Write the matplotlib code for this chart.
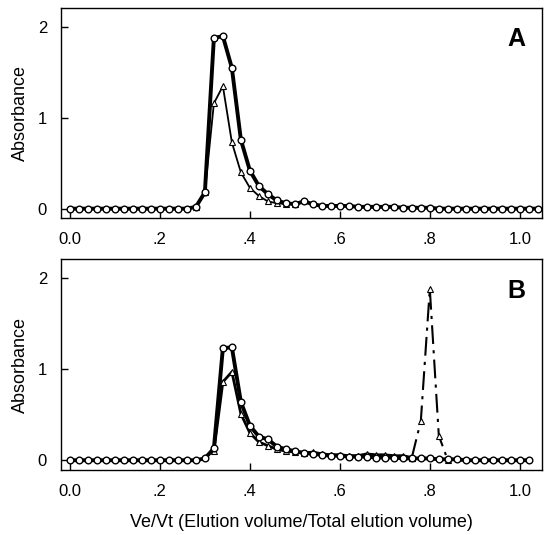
import numpy as np
import matplotlib
matplotlib.use("Agg")
import matplotlib.pyplot as plt

plt.rcParams["font.family"] = ["Liberation Sans", "DejaVu Sans"]

# panel A: fractions 0.00 .. 1.04, step 0.02
xa = np.round(np.arange(0, 1.041, 0.02), 2)
a_circ = [0.0] * 14 + [0.02, 0.18, 1.88, 1.90, 1.55, 0.76, 0.42, 0.25, 0.16, 0.09,
                      0.06, 0.05, 0.08, 0.05, 0.03, 0.03, 0.03, 0.03, 0.02, 0.02,
                      0.02, 0.02, 0.02, 0.01, 0.01, 0.01, 0.01, 0.0, 0.0, 0.0,
                      0.0, 0.0, 0.0, 0.0, 0.0, 0.0, 0.0, 0.0, 0.0]
xa_tri = [0.28, 0.30, 0.32, 0.34, 0.36, 0.38, 0.40, 0.42, 0.44, 0.46, 0.48, 0.50]
a_tri = [0.02, 0.18, 1.16, 1.35, 0.73, 0.40, 0.23, 0.14, 0.08, 0.06, 0.05, 0.05]

# panel B: fractions 0.00 .. 1.02
xb = np.round(np.arange(0, 1.021, 0.02), 2)
b_circ = [0.0] * 15 + [0.02, 0.13, 1.23, 1.24, 0.64, 0.38, 0.26, 0.23, 0.15, 0.12,
                      0.10, 0.08, 0.07, 0.06, 0.05, 0.05, 0.04, 0.04, 0.04, 0.03,
                      0.03, 0.03, 0.02, 0.02, 0.02, 0.02, 0.01, 0.01, 0.01, 0.0,
                      0.0, 0.0, 0.0, 0.0, 0.0, 0.0, 0.0]
xb_tri = [0.32, 0.34, 0.36, 0.38, 0.40, 0.42, 0.44, 0.46, 0.48, 0.50, 0.52, 0.54,
          0.56, 0.58, 0.60, 0.62, 0.64, 0.66, 0.68, 0.70, 0.72, 0.74, 0.76]
b_tri = [0.10, 0.86, 0.97, 0.51, 0.30, 0.20, 0.16, 0.12, 0.10, 0.09, 0.08, 0.09,
         0.07, 0.06, 0.06, 0.05, 0.05, 0.07, 0.06, 0.06, 0.05, 0.05, 0.03]
xb_peak = [0.76, 0.78, 0.80, 0.82, 0.84]
b_peak = [0.03, 0.43, 1.88, 0.27, 0.0]

xticks = [0.0, 0.2, 0.4, 0.6, 0.8, 1.0]
xticklabels = ["0.0", ".2", ".4", ".6", ".8", "1.0"]
yticks = [0, 1, 2]

fig = plt.figure(figsize=(5.44, 5.35), dpi=100)
axA = fig.add_axes([0.112, 0.593, 0.884, 0.392])
axB = fig.add_axes([0.112, 0.121, 0.884, 0.395])

circ = dict(marker="o", ms=4.8, mfc="white", mec="black", mew=1.0, color="black")
tri = dict(marker="^", ms=3.8, mfc="white", mec="black", mew=0.8, color="black")

axA.plot(xa_tri, a_tri, lw=1.3, zorder=2, **tri)
axA.plot(xa, a_circ, lw=2.8, zorder=3, **circ)

axB.plot(xb_tri, b_tri, lw=2.0, zorder=2, **tri)
axB.plot(xb_peak, b_peak, lw=1.5, zorder=2, dashes=(9, 3, 1.5, 3), **tri)
axB.plot(xb, b_circ, lw=2.8, zorder=3, **circ)

for ax, lab, ymin in ((axA, "A", -0.10), (axB, "B", -0.11)):
    ax.set_xlim(-0.02, 1.049)
    ax.set_ylim(ymin, 2.21)
    ax.set_xticks(xticks)
    ax.set_xticklabels(xticklabels)
    ax.set_yticks(yticks)
    ax.tick_params(direction="in", length=5, width=1, labelsize=12, pad=10)
    ax.set_ylabel("Absorbance", fontsize=13, labelpad=6)
    for s in ax.spines.values():
        s.set_linewidth(1.0)
    ax.text(0.965, 0.85, lab, transform=ax.transAxes, fontsize=18,
            fontweight="bold", ha="right", va="center")

axB.set_xlabel("Ve/Vt (Elution volume/Total elution volume)", fontsize=13, labelpad=11)

fig.savefig("out.png", dpi=100)
